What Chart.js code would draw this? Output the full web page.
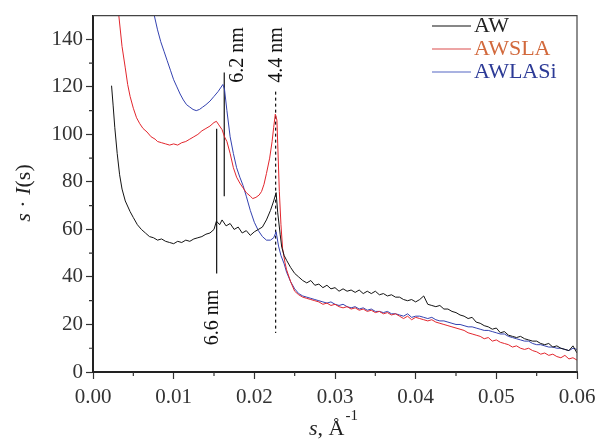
<!DOCTYPE html>
<html>
<head>
<meta charset="utf-8">
<script src="https://cdn.jsdelivr.net/npm/chart.js@4.4.1/dist/chart.umd.min.js"></script>
<style>
  html, body { margin: 0; padding: 0; background: #fff; }
  #wrap { width: 598px; height: 439px; position: relative; }
</style>
</head>
<body>
<div id="wrap"><canvas id="chart"></canvas></div>
<script>
// Tick labels
const xTicks = [0, 0.01, 0.02, 0.03, 0.04, 0.05, 0.06];
const yTicks = [0, 20, 40, 60, 80, 100, 120, 140];
const xMinor = [0.005, 0.015, 0.025, 0.035, 0.045, 0.055];
const yMinor = [10, 30, 50, 70, 90, 110, 130];

// AW (black)
const awS = [0.0023, 0.0025, 0.0027, 0.003, 0.0033, 0.0036, 0.004, 0.0046, 0.005, 0.0055,
  0.006, 0.0065, 0.007, 0.0075, 0.008, 0.0085, 0.009, 0.0095, 0.010, 0.0105,
  0.011, 0.0115, 0.012, 0.0125, 0.013, 0.0135, 0.014, 0.0145, 0.015, 0.0153,
  0.0157, 0.016, 0.0165, 0.017, 0.0175, 0.018, 0.0185, 0.019, 0.0195, 0.020,
  0.0205, 0.021, 0.0215, 0.022, 0.0224, 0.0227, 0.0229, 0.0232, 0.0234, 0.0237,
  0.024, 0.0245, 0.025, 0.0255, 0.026, 0.0265, 0.027, 0.0275, 0.028, 0.0285,
  0.029, 0.0295, 0.030, 0.0305, 0.031, 0.0315, 0.032, 0.0325, 0.033, 0.0335,
  0.034, 0.0345, 0.035, 0.0355, 0.036, 0.0365, 0.037, 0.0375, 0.038, 0.0385,
  0.039, 0.0395, 0.040, 0.0405, 0.041, 0.0415, 0.042, 0.0425, 0.043, 0.0435,
  0.044, 0.0445, 0.045, 0.0455, 0.046, 0.0465, 0.047, 0.0475, 0.048, 0.0485,
  0.049, 0.0495, 0.050, 0.0505, 0.051, 0.0515, 0.052, 0.0525, 0.053, 0.0535,
  0.054, 0.0545, 0.055, 0.0555, 0.056, 0.0565, 0.057, 0.0575, 0.058, 0.0585,
  0.059, 0.0595, 0.060];
const awI = [120.5, 112, 103, 92, 83, 77, 72, 67.5, 65, 62,
  60, 58.5, 57, 56.5, 55.5, 56, 55, 54.5, 54, 55,
  54.5, 55.5, 55, 56, 56.5, 57, 58, 58.5, 60, 63.5,
  62, 64, 61.5, 62.5, 60, 61, 58.5, 59.5, 57.5, 59,
  60, 61, 64, 68, 72, 75.5, 67, 58, 52.5, 49,
  47, 44, 41.5, 40, 38.5, 37.5, 38.5, 36.5, 37, 35.5,
  36.5, 35, 35.5, 34, 35, 34, 34.5, 33.5, 34.5, 33,
  34, 33, 34, 32.5, 33, 32, 32.5, 31.5, 31.5, 30.5,
  30, 30.5, 29.5, 30.5, 32, 28.5, 28, 27.5, 28, 26.5,
  26.5, 25.5, 25, 24, 23.5, 22.5, 23, 21, 20.5, 19.5,
  19, 18, 18.5, 16.5, 17, 15.5, 15, 14.5, 15, 14,
  13.5, 13, 13, 12, 11.5, 12, 10.5, 11, 10, 9.5,
  9, 11, 8];

// AWSLA (red)
const slaS = [0.0028, 0.0032, 0.0036, 0.004, 0.0043, 0.0046, 0.005, 0.0054, 0.0058, 0.0062,
  0.0067, 0.0072, 0.0077, 0.008, 0.0085, 0.009, 0.0095, 0.010, 0.0105, 0.011,
  0.0115, 0.012, 0.0125, 0.013, 0.0135, 0.014, 0.0145, 0.015, 0.0153, 0.0156,
  0.016, 0.0163, 0.0166, 0.017, 0.0174, 0.0178, 0.0182, 0.0186, 0.019, 0.0195,
  0.0198, 0.0202, 0.0206, 0.0209, 0.0212, 0.0215, 0.0219, 0.0222, 0.0224, 0.0226,
  0.0228, 0.0229, 0.0231, 0.0233, 0.0235, 0.0238, 0.024, 0.0245, 0.025, 0.0255,
  0.026, 0.0265, 0.027, 0.0275, 0.028, 0.0285, 0.029, 0.0295, 0.030, 0.0305,
  0.031, 0.0315, 0.032, 0.0325, 0.033, 0.0335, 0.034, 0.0345, 0.035, 0.0355,
  0.036, 0.0365, 0.037, 0.0375, 0.038, 0.0385, 0.039, 0.0395, 0.040, 0.0405,
  0.041, 0.0415, 0.042, 0.0425, 0.043, 0.0435, 0.044, 0.0445, 0.045, 0.0455,
  0.046, 0.0465, 0.047, 0.0475, 0.048, 0.0485, 0.049, 0.0495, 0.050, 0.0505,
  0.051, 0.0515, 0.052, 0.0525, 0.053, 0.0535, 0.054, 0.0545, 0.055, 0.0555,
  0.056, 0.0565, 0.057, 0.0575, 0.058, 0.0585, 0.059, 0.0595, 0.060];
const slaI = [168, 150, 137, 128, 121, 116, 111, 107, 104.5, 102.5,
  101, 99, 98, 97, 96.5, 96, 95.5, 96, 95.5, 96.5,
  97, 98, 99, 100, 101.5, 102.5, 103.5, 105, 105.5, 104,
  102, 99, 97, 92, 86, 82, 79.5, 77.5, 75.5, 74,
  73, 73.5, 74.5, 76, 79, 83.5, 90, 97, 103, 108.5,
  106, 96, 76, 62, 52, 46, 43, 38, 34, 32.5,
  31.5, 31, 30.5, 30, 29.5, 28.5, 29, 28, 28.5, 27.5,
  27, 27.5, 26.5, 27, 26, 26.5, 25.5, 26, 25, 25.5,
  24.5, 25, 24, 24.5, 23.5, 22.5, 23.5, 22, 23, 22.5,
  22, 21.5, 22, 21, 20.5, 20, 19.5, 19, 18.5, 18,
  17.5, 16.5, 16, 15.5, 15, 14, 14.5, 13, 13.5, 12.5,
  12, 11.5, 10.5, 11, 10, 9.5, 10, 9, 8.5, 7.5,
  8, 7, 7.5, 6.5, 6, 7, 5.5, 6, 5];

// AWLASi (blue)
const lasS = [0.0072, 0.0076, 0.008, 0.0084, 0.0088, 0.0092, 0.0096, 0.010, 0.0104, 0.0108,
  0.0112, 0.0116, 0.012, 0.0124, 0.0128, 0.0132, 0.0136, 0.014, 0.0145, 0.015,
  0.0155, 0.0158, 0.0161, 0.0163, 0.0166, 0.017, 0.0174, 0.0178, 0.0182, 0.0186,
  0.019, 0.0195, 0.020, 0.0205, 0.021, 0.0215, 0.022, 0.0224, 0.0227, 0.023,
  0.0233, 0.0237, 0.024, 0.0245, 0.025, 0.0255, 0.026, 0.0265, 0.027, 0.0275,
  0.028, 0.0285, 0.029, 0.0295, 0.030, 0.0305, 0.031, 0.0315, 0.032, 0.0325,
  0.033, 0.0335, 0.034, 0.0345, 0.035, 0.0355, 0.036, 0.0365, 0.037, 0.0375,
  0.038, 0.0385, 0.039, 0.0395, 0.040, 0.0405, 0.041, 0.0415, 0.042, 0.0425,
  0.043, 0.0435, 0.044, 0.0445, 0.045, 0.0455, 0.046, 0.0465, 0.047, 0.0475,
  0.048, 0.0485, 0.049, 0.0495, 0.050, 0.0505, 0.051, 0.0515, 0.052, 0.0525,
  0.053, 0.0535, 0.054, 0.0545, 0.055, 0.0555, 0.056, 0.0565, 0.057, 0.0575,
  0.058, 0.0585, 0.059, 0.0595, 0.060];
const lasI = [160, 150, 144, 139, 135, 131, 127, 123, 120, 117,
  114.5, 112.5, 111.5, 110.5, 110, 110.5, 111.5, 112.5, 114, 116,
  118, 119.5, 121, 119, 110, 99, 92, 86, 82, 78.5,
  74, 68, 63, 59.5, 57, 55.5, 55.5, 56.5, 59, 53,
  49, 45.5, 42, 38, 35, 33, 32, 31.5, 31, 30.5,
  30, 29.5, 29, 29.5, 28.5, 28, 28.5, 27.5, 27, 27.5,
  26.5, 27, 26, 26.5, 25.5, 25.5, 25, 25.5, 24.5, 24.5,
  24, 23.5, 24.5, 23, 23.5, 23.5, 23, 22.5, 23, 22,
  21.5, 21.5, 21, 20.5, 20, 20, 19.5, 19, 19, 18.5,
  18, 17.5, 17.5, 17, 16.5, 16, 16, 15, 14.5, 14,
  13.5, 13, 13, 12, 11.5, 11.5, 11, 10.5, 10.5, 10,
  10, 9.5, 9, 10, 9.5];

// Marker lines: d-spacing labels
const markLabels = ['6.6 nm', '6.2 nm', '4.4 nm'];
const markS = [0.01533, 0.01627, 0.02264];
const markTop = [102.4, 126, 118];
const markBottom = [41.5, 74, 16.4];
const markDash = [false, false, true];
const markTextS = [0.01487, 0.01797, 0.0228];
const markTextI = [23, 133.4, 133.4];

const seriesNames = ['AW', 'AWSLA', 'AWLASi'];
const lineColors = ['#141414', '#e2262d', '#3442b0'];
const legendLineColors = ['#111111', '#dc4c4c', '#5566c4'];
const legendTextColors = ['#222222', '#d2693c', '#2c3a96'];

const FONT = '"Liberation Serif", "DejaVu Serif", serif';

function pairs(xs, ys) {
  return xs.map((x, i) => ({ x: x, y: ys[i] }));
}

const datasets = [
  { label: 'AW', data: pairs(awS, awI), borderColor: lineColors[0] },
  { label: 'AWSLA', data: pairs(slaS, slaI), borderColor: lineColors[1] },
  { label: 'AWLASi', data: pairs(lasS, lasI), borderColor: lineColors[2] }
].map(d => Object.assign(d, { borderWidth: 1, pointRadius: 0, tension: 0 }));

// vertical marker lines as two-point datasets
markS.forEach((s, i) => {
  datasets.push({
    label: markLabels[i],
    data: [{ x: s, y: markTop[i] }, { x: s, y: markBottom[i] }],
    borderColor: '#111',
    borderWidth: 1.2,
    borderDash: markDash[i] ? [3, 3] : [],
    pointRadius: 0
  });
});

// Extra drawing: frame, minor ticks, annotations text, legend, axis titles
const extras = {
  id: 'extras',
  afterDraw(chart) {
    const ctx = chart.ctx;
    const a = chart.chartArea;
    const xs = chart.scales.x, ys = chart.scales.y;
    ctx.save();

    // top and right frame
    ctx.strokeStyle = '#444';
    ctx.lineWidth = 1.2;
    ctx.beginPath();
    ctx.moveTo(a.left, a.top);
    ctx.lineTo(a.right, a.top);
    ctx.lineTo(a.right, a.bottom);
    ctx.stroke();

    // minor ticks
    ctx.strokeStyle = '#333';
    ctx.lineWidth = 1.2;
    ctx.beginPath();
    xMinor.forEach(v => {
      const px = xs.getPixelForValue(v);
      ctx.moveTo(px, a.bottom);
      ctx.lineTo(px, a.bottom + 4);
    });
    yMinor.forEach(v => {
      const py = ys.getPixelForValue(v);
      ctx.moveTo(a.left, py);
      ctx.lineTo(a.left - 4, py);
    });
    ctx.stroke();

    // marker labels, rotated
    ctx.fillStyle = '#111';
    ctx.font = '20px ' + FONT;
    ctx.textAlign = 'center';
    ctx.textBaseline = 'middle';
    markLabels.forEach((t, i) => {
      ctx.save();
      ctx.translate(xs.getPixelForValue(markTextS[i]), ys.getPixelForValue(markTextI[i]));
      ctx.rotate(-Math.PI / 2);
      ctx.fillText(t, 0, 0);
      ctx.restore();
    });

    // legend
    ctx.textAlign = 'left';
    ctx.font = '22px ' + FONT;
    seriesNames.forEach((n, i) => {
      const y = 26 + i * 23;
      ctx.strokeStyle = legendLineColors[i];
      ctx.lineWidth = 1.2;
      ctx.beginPath();
      ctx.moveTo(432, y);
      ctx.lineTo(471, y);
      ctx.stroke();
      ctx.fillStyle = legendTextColors[i];
      ctx.fillText(n, 474, y);
    });

    // y axis title: s · I(s)
    ctx.fillStyle = '#222';
    ctx.save();
    ctx.translate(24, 193);
    ctx.rotate(-Math.PI / 2);
    const yParts = [['s', true], [' \u00b7 ', false], ['I', true], ['(s)', false]];
    ctx.font = '22px ' + FONT;
    let total = 0;
    yParts.forEach(p => {
      ctx.font = (p[1] ? 'italic ' : '') + '22px ' + FONT;
      total += ctx.measureText(p[0]).width;
    });
    let cx = -total / 2;
    yParts.forEach(p => {
      ctx.font = (p[1] ? 'italic ' : '') + '22px ' + FONT;
      ctx.fillText(p[0], cx, 0);
      cx += ctx.measureText(p[0]).width;
    });
    ctx.restore();

    // x axis title: s, Å^-1
    ctx.textBaseline = 'alphabetic';
    ctx.font = 'italic 22px ' + FONT;
    ctx.fillText('s', 309, 435);
    let w = ctx.measureText('s').width;
    ctx.font = '22px ' + FONT;
    ctx.fillText(', \u00c5', 309 + w, 435);
    w += ctx.measureText(', \u00c5').width;
    ctx.font = '15px ' + FONT;
    ctx.fillText('-1', 309 + w + 1, 420);

    ctx.restore();
  }
};

new Chart(document.getElementById('chart'), {
  type: 'line',
  data: { datasets: datasets },
  options: {
    responsive: true,
    maintainAspectRatio: false,
    animation: false,
    devicePixelRatio: 1,
    layout: { padding: { top: 12, right: 21, left: 0, bottom: 0 } },
    plugins: { legend: { display: false }, tooltip: { enabled: false } },
    scales: {
      x: {
        type: 'linear',
        min: 0,
        max: 0.06,
        afterBuildTicks: (scale) => { scale.ticks = xTicks.map(v => ({ value: v })); },
        afterFit: (scale) => { scale.height = 67; scale.paddingLeft = 0; scale.paddingRight = 0; },
        grid: { drawOnChartArea: false, drawTicks: true, tickLength: 7, tickColor: '#333', tickWidth: 1.2 },
        border: { color: '#222', width: 2 },
        ticks: {
          font: { family: FONT, size: 21 },
          color: '#333',
          padding: 6,
          maxRotation: 0,
          callback: (v) => Number(v).toFixed(2)
        }
      },
      y: {
        type: 'linear',
        min: 0,
        max: 150,
        afterBuildTicks: (scale) => { scale.ticks = yTicks.map(v => ({ value: v })); },
        afterFit: (scale) => { scale.width = 93; },
        grid: { drawOnChartArea: false, drawTicks: true, tickLength: 7, tickColor: '#333', tickWidth: 1.2 },
        border: { color: '#222', width: 2 },
        ticks: {
          font: { family: FONT, size: 21 },
          color: '#333',
          padding: 3
        }
      }
    }
  },
  plugins: [extras]
});
</script>
</body>
</html>
